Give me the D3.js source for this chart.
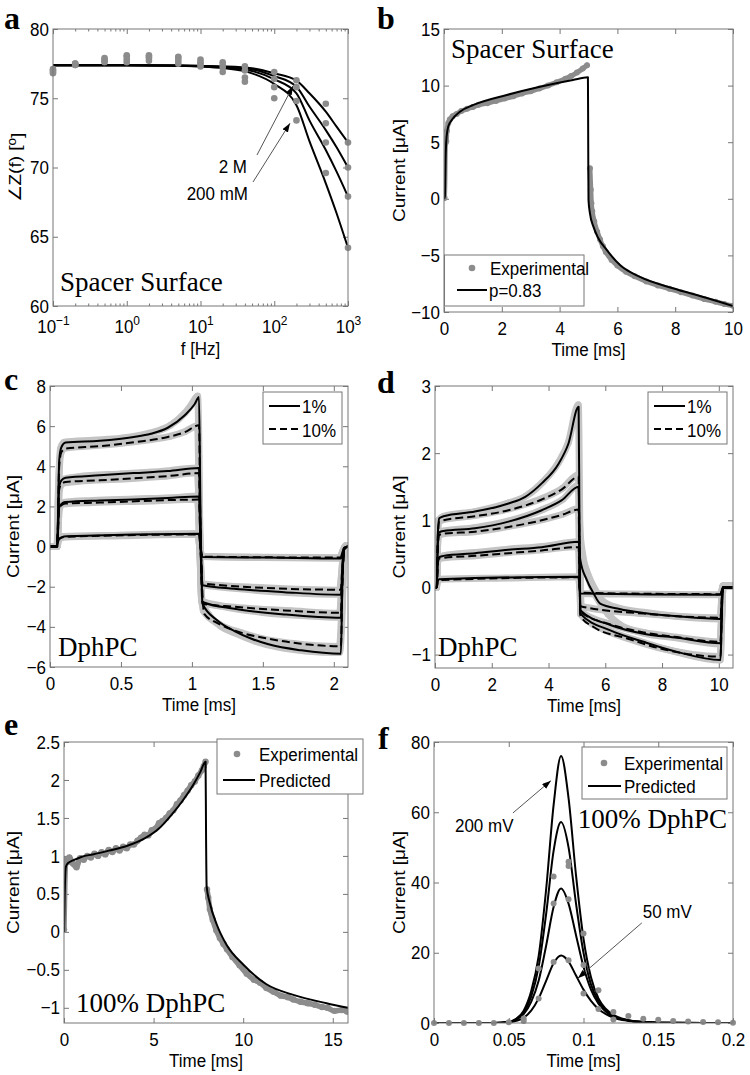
<!DOCTYPE html>
<html><head><meta charset="utf-8">
<script src="https://cdn.jsdelivr.net/npm/d3@7"></script>
<style>body{margin:0;background:#fff}svg{display:block}</style>
</head><body>
<svg id="fig" width="750" height="1075"></svg>
<script>
// ---------------- DATA ----------------
// Panel a: phase angle vs frequency
const freqA = [0.1,0.2,0.5,1,2,5,10,20,40,100,200,500,1000];
const expA1 = [77.1,77.5,77.9,78.1,78.1,78.0,77.8,77.6,77.3,76.9,76.3,74.6,71.8];
const expA2 = [77.0,77.5,77.8,78.0,78.0,77.9,77.6,77.4,77.0,76.4,75.8,73.2,70.0];
const expA3 = [76.9,77.4,77.7,77.8,77.9,77.7,77.5,77.2,76.5,75.8,74.8,71.8,67.9];
const expA4 = [76.8,77.4,77.6,77.6,77.7,77.5,77.3,76.9,76.2,75.0,73.4,69.6,64.2];
const fitFreqA = [0.1,1,5,10,20,50,100,200,300,500,700,1000];
const fitA1 = [77.38,77.38,77.36,77.34,77.3,77.16,76.8,76.27,75.36,74.03,72.95,71.8];
const fitA2 = [77.38,77.38,77.36,77.33,77.27,77.09,76.6,75.83,74.4,72.7,71.46,70.0];
const fitA3 = [77.38,77.38,77.35,77.31,77.23,76.97,76.37,75.36,73.4,71.26,69.7,67.9];
const fitA4 = [77.38,77.38,77.34,77.29,77.18,76.8,76.03,74.5,71.9,68.86,66.7,64.2];
const ticksAx = [0.1,1,10,100,1000];
const ticksAy = [60,65,70,75,80];

// Panel b: [time ms, current uA]
const expB = [[0,0.05],[0.02,0.1],[0.05,4.9],[0.08,5.1],[0.1,6.0],[0.15,6.7],[0.2,7.0],[0.3,7.3],[0.44,7.5],[0.6,7.75],[0.8,7.95],[1.0,8.1],[1.2,8.3],[1.5,8.45],[1.8,8.65],[2.1,8.85],[2.4,9.05],[2.7,9.3],[3.0,9.5],[3.3,9.75],[3.6,10.0],[3.9,10.3],[4.2,10.6],[4.4,10.85],[4.6,11.15],[4.8,11.5],[4.95,11.8],null,
  [5.05,2.7],[5.08,0.8],[5.1,-0.4],[5.13,-1.1],[5.2,-2.0],[5.3,-2.9],[5.4,-3.6],[5.5,-4.2],[5.6,-4.7],[5.8,-5.4],[6.0,-5.9],[6.3,-6.45],[6.6,-6.85],[7.0,-7.3],[7.4,-7.65],[7.8,-7.95],[8.2,-8.25],[8.6,-8.55],[9.0,-8.85],[9.4,-9.1],[9.7,-9.3],[10,-9.45]];
const fitB = [[0,0],[0.03,0.2],[0.06,4.0],[0.09,5.5],[0.15,6.4],[0.27,6.96],[0.55,7.69],[1.02,8.29],[2.17,9.17],[3.32,9.9],[4.46,10.5],[4.98,10.73],[4.99,5.0],[5.0,-0.1],[5.05,-1.28],[5.17,-2.46],[5.34,-3.49],[5.63,-4.52],[6.09,-5.85],[6.78,-6.9],[7.92,-7.9],[9.1,-8.76],[10,-9.47]];
const ticksBx = [0,2,4,6,8,10];
const ticksBy = [-10,-5,0,5,10,15];

// Panel c: four step levels, 1% (solid) and 10% (dashed) fits, experimental bands
const fitC4_1 = [[0,0],[0.05,0],[0.065,4.3],[0.08,4.95],[0.11,5.18],[0.35,5.27],[0.59,5.46],[0.71,5.62],[0.83,5.92],[0.95,6.54],[1.02,7.1],[1.05,7.45],[1.06,2.0],[1.075,-2.85],[1.18,-3.68],[1.3,-4.21],[1.42,-4.59],[1.54,-4.87],[1.77,-5.17],[2.05,-5.34],[2.06,-2.0],[2.075,-0.1],[2.1,0]];
const fitC4_10 = [[0,0],[0.05,0],[0.065,4.0],[0.08,4.7],[0.11,4.88],[0.35,5.0],[0.59,5.2],[0.83,5.46],[0.95,5.7],[1.05,6.04],[1.06,1.0],[1.087,-3.35],[1.18,-3.81],[1.3,-4.18],[1.54,-4.59],[1.77,-4.84],[2.05,-4.97],[2.06,-2.0],[2.075,-0.1],[2.1,0]];
const fitC3_1 = [[0,0],[0.05,0],[0.065,3.0],[0.08,3.3],[0.11,3.43],[0.35,3.55],[0.59,3.66],[0.83,3.76],[1.05,3.91],[1.06,0.5],[1.075,-2.76],[1.3,-3.1],[1.65,-3.38],[2.05,-3.55],[2.06,-1.5],[2.075,-0.1],[2.1,0]];
const fitC3_10 = [[0,0],[0.05,0],[0.065,2.85],[0.08,3.1],[0.11,3.22],[0.35,3.3],[0.59,3.4],[0.83,3.51],[1.05,3.66],[1.06,0.4],[1.075,-2.85],[1.3,-3.0],[1.65,-3.18],[2.05,-3.3],[2.06,-1.5],[2.075,-0.1],[2.1,0]];
const fitC2_1 = [[0,0],[0.05,0],[0.065,1.95],[0.09,2.18],[0.11,2.22],[0.35,2.3],[0.59,2.35],[0.83,2.42],[1.05,2.5],[1.06,0.2],[1.075,-1.93],[1.3,-2.1],[1.65,-2.27],[2.05,-2.4],[2.06,-1.0],[2.075,-0.1],[2.1,0]];
const fitC2_10 = [[0,0],[0.05,0],[0.065,1.9],[0.09,2.1],[0.11,2.14],[0.35,2.19],[1.05,2.34],[1.06,0.2],[1.075,-1.85],[2.05,-2.15],[2.06,-1.0],[2.075,-0.1],[2.1,0]];
const fitC1_1 = [[0,0],[0.05,0],[0.06,0.35],[0.08,0.46],[0.12,0.51],[1.05,0.64],[1.06,0],[1.075,-0.52],[1.54,-0.55],[2.05,-0.6],[2.06,-0.3],[2.075,-0.05],[2.1,0]];
const fitC1_10 = [[0,0],[0.05,0],[0.06,0.33],[0.08,0.44],[0.12,0.49],[1.05,0.6],[1.06,0],[1.075,-0.5],[2.05,-0.55],[2.06,-0.3],[2.075,-0.05],[2.1,0]];
const expC4_1 = [[0,0],[0.04,0],[0.05,0.1],[0.06,3.0],[0.075,4.9],[0.1,5.2],[0.3,5.3],[0.5,5.4],[0.7,5.65],[0.85,6.05],[0.95,6.65],[1.0,7.1],[1.04,7.5],[1.05,4.5],[1.055,1.0],[1.07,-2.7],[1.12,-3.4],[1.2,-3.95],[1.3,-4.3],[1.45,-4.72],[1.6,-5.0],[1.8,-5.2],[2.04,-5.28],[2.06,-3.0],[2.07,-0.5],[2.085,0.05],[2.1,0]];
const expC4_10 = [[0,0],[0.04,0],[0.05,0.1],[0.06,2.8],[0.075,4.6],[0.1,4.9],[0.3,5.02],[0.5,5.15],[0.7,5.32],[0.85,5.5],[0.95,5.72],[1.04,6.02],[1.05,3.0],[1.06,-1.0],[1.08,-3.2],[1.2,-3.9],[1.35,-4.3],[1.5,-4.6],[1.7,-4.82],[2.04,-4.98],[2.06,-2.5],[2.075,-0.3],[2.09,0.05],[2.1,0]];
const expC3_1 = [[0,0],[0.05,0],[0.065,2.9],[0.09,3.35],[0.2,3.48],[0.5,3.62],[0.8,3.75],[1.04,3.92],[1.055,0.5],[1.07,-2.7],[1.2,-2.95],[1.5,-3.28],[1.8,-3.45],[2.04,-3.52],[2.065,-1.0],[2.08,0],[2.1,0]];
const expC3_10 = [[0,0],[0.05,0],[0.065,2.8],[0.09,3.15],[0.2,3.25],[0.5,3.36],[0.8,3.5],[1.04,3.68],[1.055,0.4],[1.07,-2.8],[1.3,-3.02],[1.7,-3.2],[2.04,-3.32],[2.065,-1.0],[2.08,0],[2.1,0]];
const expC2_1 = [[0,0],[0.05,0],[0.065,1.9],[0.09,2.2],[0.3,2.3],[0.6,2.37],[0.9,2.45],[1.04,2.52],[1.055,0.2],[1.07,-1.9],[1.3,-2.08],[1.7,-2.3],[2.04,-2.38],[2.065,-0.6],[2.08,0],[2.1,0]];
const expC2_10 = [[0,0],[0.05,0],[0.065,1.85],[0.09,2.12],[0.3,2.2],[0.7,2.27],[1.04,2.36],[1.055,0.2],[1.07,-1.85],[1.5,-2.05],[2.04,-2.17],[2.065,-0.6],[2.08,0],[2.1,0]];
const expC1_1 = [[0,0],[0.05,0],[0.06,0.35],[0.09,0.5],[0.5,0.57],[1.04,0.65],[1.055,0],[1.07,-0.5],[1.5,-0.55],[2.04,-0.58],[2.065,-0.2],[2.08,0],[2.1,0]];
const expC1_10 = [[0,0],[0.05,0],[0.06,0.32],[0.09,0.47],[0.5,0.54],[1.04,0.61],[1.055,0],[1.07,-0.48],[1.5,-0.53],[2.04,-0.56],[2.065,-0.2],[2.08,0],[2.1,0]];
const ticksCx = [0,0.5,1,1.5,2];
const ticksCy = [-6,-4,-2,0,2,4,6,8];

// Panel d
const fitD4_1 = [[0,0],[0.06,0],[0.1,0.8],[0.15,1.03],[0.3,1.06],[1.41,1.13],[2.59,1.25],[3.18,1.35],[3.76,1.55],[4.35,1.84],[4.7,2.14],[5.06,2.69],[5.09,1.0],[5.12,-0.39],[6.18,-0.64],[7.35,-0.81],[8.53,-0.96],[10.06,-1.08],[10.1,-0.5],[10.14,0],[10.5,0]];
const fitD4_10 = [[0,0],[0.06,0],[0.1,0.75],[0.15,0.98],[0.3,1.0],[1.41,1.06],[2.59,1.15],[3.76,1.31],[4.47,1.46],[5.06,1.65],[5.09,0.6],[5.12,-0.42],[5.59,-0.59],[6.77,-0.76],[7.94,-0.91],[10.06,-1.03],[10.1,-0.5],[10.14,0],[10.5,0]];
const fitD3_1 = [[0,0],[0.06,0],[0.1,0.65],[0.15,0.82],[0.3,0.84],[1.41,0.88],[2.59,0.98],[3.76,1.15],[4.47,1.3],[5.06,1.5],[5.09,0.5],[5.12,-0.34],[6.18,-0.56],[7.35,-0.69],[8.53,-0.75],[10.06,-0.83],[10.1,-0.4],[10.14,0],[10.5,0]];
const fitD3_10 = [[0,0],[0.06,0],[0.1,0.62],[0.15,0.78],[0.3,0.8],[1.41,0.83],[2.59,0.9],[3.76,1.0],[4.47,1.08],[5.06,1.16],[5.09,0.4],[5.12,-0.36],[6.18,-0.55],[7.35,-0.67],[8.53,-0.74],[10.06,-0.81],[10.1,-0.4],[10.14,0],[10.5,0]];
const fitD2_1 = [[0,0],[0.06,0],[0.1,0.38],[0.15,0.45],[0.3,0.47],[1.41,0.51],[2.59,0.56],[3.76,0.6],[5.06,0.68],[5.12,0.41],[5.35,0.11],[5.59,-0.09],[5.82,-0.24],[6.5,-0.32],[7.35,-0.38],[8.53,-0.43],[10.06,-0.47],[10.1,-0.2],[10.14,0],[10.5,0]];
const fitD2_10 = [[0,0],[0.06,0],[0.1,0.36],[0.15,0.43],[0.3,0.44],[1.41,0.47],[2.59,0.51],[3.76,0.55],[5.06,0.6],[5.09,0.1],[5.12,-0.28],[7.35,-0.39],[10.06,-0.45],[10.1,-0.2],[10.14,0],[10.5,0]];
const fitD1_1 = [[0,0],[0.06,0],[0.1,0.1],[0.15,0.12],[5.06,0.16],[5.09,0.0],[5.12,-0.09],[10.06,-0.11],[10.1,-0.05],[10.14,0],[10.5,0]];
const fitD1_10 = [[0,0],[0.06,0],[0.1,0.09],[0.15,0.11],[5.06,0.15],[5.09,0.0],[5.12,-0.08],[10.06,-0.1],[10.1,-0.05],[10.14,0],[10.5,0]];
const expD4_1 = [[0,0],[0.05,0],[0.08,0.6],[0.12,1.0],[0.3,1.06],[1.4,1.13],[2.6,1.26],[3.2,1.36],[3.8,1.57],[4.35,1.86],[4.7,2.16],[5.05,2.72],[5.1,1.0],[5.13,-0.4],[5.5,-0.52],[6.2,-0.66],[7.35,-0.82],[8.5,-0.96],[10.05,-1.08],[10.1,-0.5],[10.15,0.02],[10.5,0.02]];
const expD4_10 = [[0,0],[0.05,0],[0.08,0.6],[0.12,0.97],[0.3,1.01],[1.4,1.07],[2.6,1.17],[3.8,1.33],[4.5,1.48],[5.05,1.68],[5.1,0.8],[5.15,-0.35],[5.4,-0.5],[5.8,-0.6],[6.8,-0.76],[7.9,-0.9],[10.05,-1.03],[10.1,-0.5],[10.15,0.02],[10.5,0.02]];
const expD3_1 = [[0,0],[0.05,0],[0.08,0.5],[0.12,0.8],[0.3,0.84],[1.4,0.89],[2.6,0.99],[3.8,1.16],[4.5,1.31],[5.05,1.52],[5.1,0.9],[5.2,0.5],[5.4,0.15],[5.7,-0.15],[6.1,-0.4],[6.5,-0.55],[7.35,-0.68],[8.5,-0.75],[10.05,-0.84],[10.1,-0.4],[10.15,0.02],[10.5,0.02]];
const expD3_10 = [[0,0],[0.05,0],[0.08,0.5],[0.12,0.77],[0.3,0.8],[1.4,0.83],[2.6,0.91],[3.8,1.01],[4.5,1.09],[5.05,1.17],[5.1,0.3],[5.15,-0.36],[6.2,-0.55],[7.35,-0.67],[8.5,-0.74],[10.05,-0.81],[10.1,-0.4],[10.15,0.02],[10.5,0.02]];
const expD2_1 = [[0,0],[0.05,0],[0.08,0.3],[0.12,0.45],[0.3,0.47],[1.4,0.52],[2.6,0.57],[3.8,0.61],[5.05,0.68],[5.15,0.5],[5.4,0.18],[5.65,-0.04],[5.9,-0.2],[6.5,-0.31],[7.35,-0.37],[8.5,-0.43],[10.05,-0.47],[10.1,-0.2],[10.15,0.02],[10.5,0.02]];
const expD2_10 = [[0,0],[0.05,0],[0.08,0.3],[0.12,0.43],[0.3,0.44],[1.4,0.47],[2.6,0.52],[3.8,0.56],[5.05,0.61],[5.1,0.1],[5.13,-0.28],[7.35,-0.39],[10.05,-0.45],[10.1,-0.2],[10.15,0.02],[10.5,0.02]];
const expD1 = [[0,0],[0.05,0],[0.08,0.08],[0.12,0.12],[2.5,0.14],[5.05,0.16],[5.1,0.0],[5.13,-0.09],[7.5,-0.1],[10.05,-0.11],[10.1,-0.05],[10.15,0.02],[10.5,0.02]];
const ticksDx = [0,2,4,6,8,10];
const ticksDy = [-1,0,1,2,3];

// Panel e
const expE = [[0,0.03],[0.1,0.95],[0.2,0.92],[0.3,0.98],[0.5,0.9],[0.7,0.85],[0.9,0.97],[1.1,0.95],[1.3,1.0],[1.5,0.98],[1.7,1.03],[1.9,1.0],[2.1,1.05],[2.3,1.02],[2.5,1.08],[2.7,1.05],[2.9,1.1],[3.1,1.07],[3.3,1.12],[3.5,1.1],[3.7,1.15],[3.9,1.15],[4.1,1.2],[4.3,1.24],[4.5,1.28],[4.7,1.27],[4.9,1.34],[5.1,1.36],[5.3,1.43],[5.5,1.46],[5.7,1.5],[5.9,1.56],[6.1,1.6],[6.3,1.68],[6.5,1.73],[6.7,1.8],[6.9,1.86],[7.1,1.93],[7.3,1.98],[7.5,2.06],[7.7,2.13],[7.8,2.18],[7.9,2.24],null,
  [7.98,0.56],[8.05,0.45],[8.14,0.3],[8.3,0.16],[8.5,0.02],[8.7,-0.08],[8.9,-0.16],[9.1,-0.23],[9.4,-0.33],[9.8,-0.44],[10.2,-0.55],[10.6,-0.63],[10.95,-0.67],[11.3,-0.74],[11.7,-0.79],[12.1,-0.84],[12.5,-0.86],[12.8,-0.89],[13.2,-0.92],[13.6,-0.94],[14.0,-0.96],[14.4,-0.99],[14.7,-1.0],[15.1,-1.04],[15.5,-1.03],[15.8,-1.05]];
const fitE = [[0,0],[0.04,0.5],[0.1,0.85],[0.2,0.9],[0.5,0.94],[1.0,0.99],[1.6,1.02],[2.5,1.07],[3.5,1.13],[4.5,1.23],[5.3,1.36],[6.0,1.54],[6.6,1.72],[7.2,1.93],[7.6,2.1],[7.9,2.24],[7.93,1.2],[7.96,0.6],[8.14,0.38],[8.52,0.1],[9.07,-0.17],[10.0,-0.43],[11.3,-0.69],[12.8,-0.83],[14.65,-0.94],[15.85,-1.0]];
const ticksEx = [0,5,10,15];
const ticksEy = [-1,-0.5,0,0.5,1,1.5,2,2.5];

// Panel f
const expFt = [0,0.01,0.02,0.03,0.04,0.05,0.06,0.06,0.07,0.07,0.08,0.08,0.08,0.09,0.09,0.09,0.09,0.1,0.1,0.1,0.11,0.11,0.12,0.12,0.13,0.14,0.15,0.16,0.17,0.18,0.19,0.2];
const expFv = [0,0,0,0,0,0.2,0.6,1.3,7,15.5,17.4,34,41.7,17.9,35.2,44.7,45.9,8.4,16.5,25.5,4,9.3,1,3.1,2,1.2,0.9,0.6,0.4,0.3,0.2,0.1];
const timeF = [0,0.04,0.05,0.055,0.06,0.065,0.07,0.075,0.08,0.085,0.09,0.095,0.1,0.105,0.11,0.115,0.12,0.13,0.14,0.15,0.2];
const predF200 = [0,0,0.3,1.2,3.5,9,19,38,62,76,64,42,24,13,7,4,2.3,0.8,0.3,0.1,0];
const predF150 = [0,0,0.3,1.1,3,7.5,16,31,49,57.2,50,34,20,11,6.2,3.5,2,0.7,0.3,0.1,0];
const predF100 = [0,0,0.3,1,2.5,6,12,22,33,38.3,34,25,16,9.5,5.5,3.2,1.8,0.7,0.3,0.1,0];
const predF50  = [0,0,0.2,0.6,1.5,3.5,7,12,17,19.2,17.5,13.5,9.5,6.3,4,2.5,1.5,0.6,0.25,0.1,0];
const ticksFx = [0,0.05,0.1,0.15,0.2];
const ticksFy = [0,20,40,60,80];

// ---------------- DRAWING ----------------
const svg = d3.select('#fig');
svg.append('rect').attr('width',750).attr('height',1075).attr('fill','#fff');
const SANS = "'Liberation Sans', Arial, Helvetica, sans-serif";
const SERIF = "'Liberation Serif', 'Times New Roman', serif";
const AX = '#777';
const DOT = '#8c8c8c';
const BAND = '#c4c4c4';
const SY = 1.12;   // sans text in the figure is drawn taller than wide
const defs = svg.append('defs');
defs.append('marker').attr('id','arr').attr('viewBox','0 0 10 7').attr('refX',10).attr('refY',3.5)
  .attr('markerWidth',9).attr('markerHeight',6.5).attr('markerUnits','userSpaceOnUse').attr('orient','auto')
  .append('path').attr('d','M0,0 L10,3.5 L0,7 Z').attr('fill','#000');

const fmt = v => String(v).replace('-', '\u2212');
let clipN = 0;
function stretchTicks(sel){
  sel.selectAll('.tick text').each(function(){
    const t = d3.select(this);
    const x = +t.attr('x') || 0, y = +t.attr('y') || 0;
    t.attr('x', null).attr('y', null).attr('transform', `translate(${x},${y}) scale(1,${SY})`);
  });
}
function makePanel(o){
  const g = svg.append('g');
  const x = (o.log ? d3.scaleLog() : d3.scaleLinear()).domain(o.xd).range([o.l, o.r]);
  const y = d3.scaleLinear().domain(o.yd).range([o.b, o.t]);
  const id = 'clip' + (clipN++);
  defs.append('clipPath').attr('id', id).append('rect').attr('x',o.l).attr('y',o.t).attr('width',o.r-o.l).attr('height',o.b-o.t);
  const style = sel => { sel.select('.domain').remove(); sel.selectAll('line').attr('stroke',AX);
    sel.attr('font-family',SANS).attr('font-size',17).attr('color','#000'); stretchTicks(sel); };
  const tl = 5;
  g.append('g').attr('class','xb').attr('transform',`translate(0,${o.b})`).call(d3.axisBottom(x).tickValues(o.xt).tickSizeInner(-tl).tickSizeOuter(0).tickPadding(o.xpad || 9).tickFormat(fmt)).call(style);
  g.append('g').attr('transform',`translate(0,${o.t})`).call(d3.axisTop(x).tickValues(o.xt).tickSizeInner(-tl).tickSizeOuter(0).tickFormat('')).call(style);
  g.append('g').attr('transform',`translate(${o.l},0)`).call(d3.axisLeft(y).tickValues(o.yt).tickSizeInner(-tl).tickSizeOuter(0).tickPadding(4).tickFormat(fmt)).call(style);
  g.append('g').attr('transform',`translate(${o.r},0)`).call(d3.axisRight(y).tickValues(o.yt).tickSizeInner(-tl).tickSizeOuter(0).tickFormat('')).call(style);
  if (o.minor) {
    g.append('g').attr('transform',`translate(0,${o.b})`).call(d3.axisBottom(x).tickValues(o.minor).tickSizeInner(-2.5).tickSizeOuter(0).tickFormat('')).call(style);
    g.append('g').attr('transform',`translate(0,${o.t})`).call(d3.axisTop(x).tickValues(o.minor).tickSizeInner(-2.5).tickSizeOuter(0).tickFormat('')).call(style);
  }
  const gc = g.append('g').attr('clip-path', `url(#${id})`);
  const gd = g.append('g');
  const p = {g, gc, gd, x, y, o};
  p.finish = () => {
    g.append('rect').attr('x',o.l).attr('y',o.t).attr('width',o.r-o.l).attr('height',o.b-o.t).attr('fill','none').attr('stroke',AX).attr('stroke-width',1);
  };
  // axis labels
  txt((o.l+o.r)/2, o.b + (o.xlab || 44), o.xlabel, {anchor:'middle'});
  const yl = svg.append('text').attr('transform',`translate(${o.ylx},${(o.t+o.b)/2}) rotate(-90) scale(${SY},1)`).attr('dy','0.35em').attr('text-anchor','middle').attr('font-family',SANS).attr('font-size',17);
  if (o.ylabelFn) o.ylabelFn(yl); else yl.text(o.ylabel);
  return p;
}
function line(p, data, opt){
  const gen = d3.line().defined(d => d != null).x(d => p.x(d[0])).y(d => p.y(d[1])).curve(d3.curveMonotoneX);
  const el = p.gc.append('path').datum(data).attr('d', gen).attr('fill','none')
    .attr('stroke', opt.color || '#000').attr('stroke-width', opt.w || 2)
    .attr('stroke-linejoin','round').attr('stroke-linecap', opt.cap || 'butt');
  if (opt.dash) el.attr('stroke-dasharray', opt.dash);
  return el;
}
function band(p, data, color, w, r){
  line(p, data, {color, w, cap:'round'});
  p.gc.selectAll(null).data(data.filter(d => d)).enter().append('circle')
    .attr('cx', d => p.x(d[0])).attr('cy', d => p.y(d[1])).attr('r', r).attr('fill', color);
}
function txt(x, y, s, o={}){
  const serif = o.family === SERIF;
  const t = svg.append('text').attr('font-family',o.family||SANS).attr('font-size',o.size||17)
    .attr('text-anchor',o.anchor||'start').attr('font-weight',o.weight||'normal').attr('fill','#000').text(s);
  if (serif) t.attr('x',x).attr('y',y);
  else t.attr('transform',`translate(${x},${y}) scale(1,${SY})`);
  return t;
}
function legendBox(x0,y0,x1,y1){
  svg.append('rect').attr('x',x0).attr('y',y0).attr('width',x1-x0).attr('height',y1-y0).attr('fill','#fff').attr('stroke',AX);
}
function arrow(p, from, to){
  svg.append('line').attr('x1',p.x(from[0])).attr('y1',p.y(from[1])).attr('x2',p.x(to[0])).attr('y2',p.y(to[1]))
    .attr('stroke','#555').attr('stroke-width',1).attr('marker-end','url(#arr)');
}
function letter(x,y,s){ txt(x,y,s,{family:SERIF,size:32,weight:'bold'}); }

// ----- Panel a -----
const minorA = [];
[0.1,1,10,100].forEach(d => { for (let k=2;k<10;k++) minorA.push(d*k); });
const pa = makePanel({l:53,r:348,t:29,b:306,log:true,xd:[0.1,1000],yd:[60,80],xt:ticksAx,yt:ticksAy,minor:minorA,xpad:13.5,xlab:49,
  xlabel:'f [Hz]', ylx:15, ylabelFn: t => { t.append('tspan').text('\u2220Z(f) ['); t.append('tspan').attr('dy','-0.45em').attr('font-size',12).text('o'); t.append('tspan').attr('dy','0.45em').text(']'); }});
pa.g.select('.xb').selectAll('.tick text').each(function(d){
  const t = d3.select(this); t.text('');
  t.append('tspan').text('10');
  t.append('tspan').attr('dy','-0.6em').attr('font-size',12).text(fmt(Math.round(Math.log10(d))));
});
[expA1,expA2,expA3,expA4].forEach(s => {
  pa.gd.selectAll(null).data(s).enter().append('circle')
    .attr('cx',(d,i)=>pa.x(freqA[i])).attr('cy',d=>pa.y(d)).attr('r',3.3).attr('fill',DOT);
});
[fitA1,fitA2,fitA3,fitA4].forEach(s => line(pa, s.map((v,i)=>[fitFreqA[i], v]), {w:2}));
pa.finish();
txt(60,291,'Spacer Surface',{family:SERIF,size:27});
txt(pa.x(42.7),pa.y(69.6),'2 M',{anchor:'end'});
txt(pa.x(44.1),pa.y(67.65),'200 mM',{anchor:'end'});
arrow(pa,[58.3,70.9],[179.6,75.88]);
arrow(pa,[51.5,68.95],[163.6,73.2]);
letter(4,29,'a');

// ----- Panel b -----
const pb = makePanel({l:444,r:733,t:29,b:312,xd:[0,10],yd:[-10,15],xt:ticksBx,yt:ticksBy,xlabel:'Time [ms]',ylx:399,ylabel:'Current [\u03bcA]'});
band(pb, expB, DOT, 5, 3);
line(pb, fitB, {w:2});
pb.finish();
txt(451,58,'Spacer Surface',{family:SERIF,size:27});
legendBox(444.5,255,584,306);
svg.append('circle').attr('cx',472).attr('cy',268).attr('r',3.3).attr('fill',DOT);
txt(490,275,'Experimental');
svg.append('line').attr('x1',457).attr('x2',487).attr('y1',290).attr('y2',290).attr('stroke','#000').attr('stroke-width',2);
txt(489,297,'p=0.83');
letter(377,29,'b');

// ----- Panel c -----
const pc = makePanel({l:50,r:348,t:386,b:667,xd:[0,2.1],yd:[-6,8],xt:ticksCx,yt:ticksCy,xlabel:'Time [ms]',ylx:13,ylabel:'Current [\u03bcA]'});
[expC4_1,expC4_10,expC3_1,expC3_10,expC2_1,expC2_10,expC1_1,expC1_10].forEach(s => band(pc, s, BAND, 7, 3.3));
[fitC4_10,fitC3_10,fitC2_10,fitC1_10].forEach(s => line(pc, s, {w:2, dash:'8,4'}));
[fitC4_1,fitC3_1,fitC2_1,fitC1_1].forEach(s => line(pc, s, {w:2}));
pc.finish();
txt(58,656,'DphPC',{family:SERIF,size:27});
legendBox(263,392,342,444);
svg.append('line').attr('x1',269).attr('x2',300).attr('y1',406).attr('y2',406).attr('stroke','#000').attr('stroke-width',2);
svg.append('line').attr('x1',269).attr('x2',300).attr('y1',429).attr('y2',429).attr('stroke','#000').attr('stroke-width',2).attr('stroke-dasharray','7,4');
txt(302,413,'1%'); txt(302,437,'10%');
letter(4,390,'c');

// ----- Panel d -----
const pd = makePanel({l:435,r:733,t:386,b:668,xd:[0,10.5],yd:[-1.2,3],xt:ticksDx,yt:ticksDy,xlabel:'Time [ms]',ylx:399,ylabel:'Current [\u03bcA]'});
[expD4_1,expD4_10,expD3_1,expD3_10,expD2_1,expD2_10,expD1].forEach(s => band(pd, s, BAND, 7, 3.3));
[fitD4_10,fitD3_10,fitD2_10,fitD1_10].forEach(s => line(pd, s, {w:2, dash:'8,4'}));
[fitD4_1,fitD3_1,fitD2_1,fitD1_1].forEach(s => line(pd, s, {w:2}));
pd.finish();
txt(438,656,'DphPC',{family:SERIF,size:27});
legendBox(648,392,727,444);
svg.append('line').attr('x1',654).attr('x2',685).attr('y1',406).attr('y2',406).attr('stroke','#000').attr('stroke-width',2);
svg.append('line').attr('x1',654).attr('x2',685).attr('y1',429).attr('y2',429).attr('stroke','#000').attr('stroke-width',2).attr('stroke-dasharray','7,4');
txt(687,413,'1%'); txt(687,437,'10%');
letter(377,393,'d');

// ----- Panel e -----
const pe = makePanel({l:64,r:348,t:742,b:1023,xd:[0,15.85],yd:[-1.2,2.5],xt:ticksEx,yt:ticksEy,xlabel:'Time [ms]',ylx:13,ylabel:'Current [\u03bcA]'});
band(pe, expE, DOT, 5.5, 3.2);
line(pe, fitE, {w:2});
pe.finish();
txt(76,1012,'100% DphPC',{family:SERIF,size:27});
legendBox(217,739,363,794);
svg.append('circle').attr('cx',237).attr('cy',754).attr('r',3.3).attr('fill',DOT);
txt(259,761,'Experimental');
svg.append('line').attr('x1',223).attr('x2',255).attr('y1',780).attr('y2',780).attr('stroke','#000').attr('stroke-width',2);
txt(259,787,'Predicted');
letter(4,735,'e');

// ----- Panel f -----
const pf = makePanel({l:434,r:733,t:742,b:1023,xd:[0,0.2],yd:[0,80],xt:ticksFx,yt:ticksFy,xlabel:'Time [ms]',ylx:399,ylabel:'Current [\u03bcA]'});
[predF200,predF150,predF100,predF50].forEach(s => line(pf, s.map((v,i)=>[timeF[i], v]), {w:2}));
pf.gd.selectAll(null).data(expFv).enter().append('circle')
  .attr('cx',(d,i)=>pf.x(expFt[i])).attr('cy',d=>pf.y(d)).attr('r',3).attr('fill',DOT);
pf.finish();
legendBox(582,747,727,799);
svg.append('circle').attr('cx',604).attr('cy',763).attr('r',3.3).attr('fill',DOT);
txt(624,770,'Experimental');
svg.append('line').attr('x1',588).attr('x2',621).attr('y1',786).attr('y2',786).attr('stroke','#000').attr('stroke-width',2);
txt(624,793,'Predicted');
txt(pf.x(0.0962),pf.y(55.5),'100% DphPC',{family:SERIF,size:27});
txt(pf.x(0.014),pf.y(54.4),'200 mV');
arrow(pf,[0.0528,59.8],[0.0782,69]);
txt(pf.x(0.1396),pf.y(29.9),'50 mV');
arrow(pf,[0.139,28.5],[0.0962,12.75]);
letter(378,749,'f');
</script>
</body></html>
